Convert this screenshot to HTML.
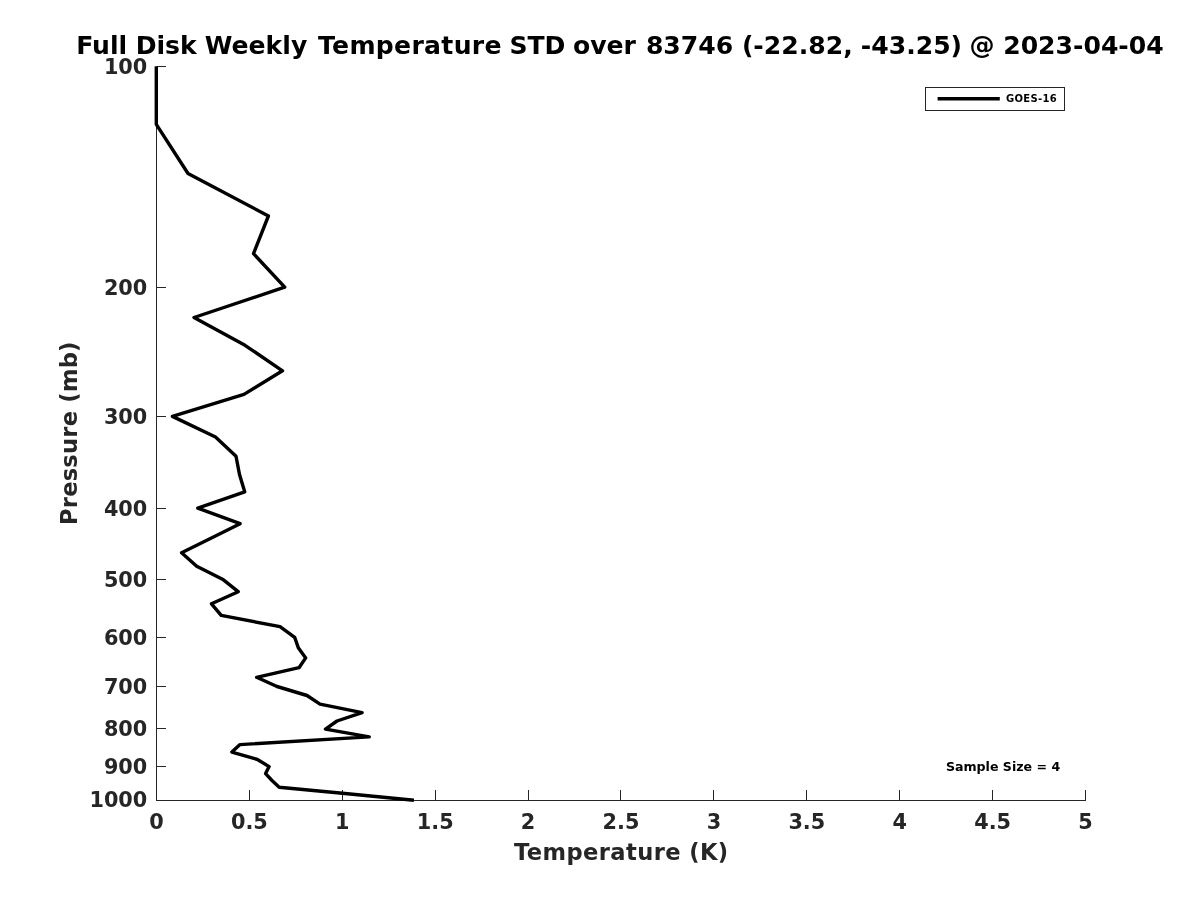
<!DOCTYPE html>
<html lang="en"><head><meta charset="utf-8"><title>Full Disk Weekly Temperature STD</title>
<style>html,body{margin:0;padding:0;background:#fff;width:1200px;height:900px;overflow:hidden}svg{display:block}</style></head>
<body>
<svg width="1200" height="900" viewBox="0 0 1200 900">
<rect width="1200" height="900" fill="#fff"/>
<g stroke="#262626" stroke-width="1" fill="none" shape-rendering="crispEdges">
<line x1="156.5" y1="66.5" x2="156.5" y2="800.5"/>
<line x1="156.5" y1="800.5" x2="1085.5" y2="800.5"/>
<line x1="156.5" y1="800.5" x2="156.5" y2="790.0"/>
<line x1="249.5" y1="800.5" x2="249.5" y2="790.0"/>
<line x1="342.5" y1="800.5" x2="342.5" y2="790.0"/>
<line x1="435.5" y1="800.5" x2="435.5" y2="790.0"/>
<line x1="528.5" y1="800.5" x2="528.5" y2="790.0"/>
<line x1="620.5" y1="800.5" x2="620.5" y2="790.0"/>
<line x1="713.5" y1="800.5" x2="713.5" y2="790.0"/>
<line x1="806.5" y1="800.5" x2="806.5" y2="790.0"/>
<line x1="899.5" y1="800.5" x2="899.5" y2="790.0"/>
<line x1="992.5" y1="800.5" x2="992.5" y2="790.0"/>
<line x1="1085.5" y1="800.5" x2="1085.5" y2="790.0"/>
<line x1="156.5" y1="66.5" x2="166.0" y2="66.5"/>
<line x1="156.5" y1="287.5" x2="166.0" y2="287.5"/>
<line x1="156.5" y1="416.5" x2="166.0" y2="416.5"/>
<line x1="156.5" y1="508.5" x2="166.0" y2="508.5"/>
<line x1="156.5" y1="579.5" x2="166.0" y2="579.5"/>
<line x1="156.5" y1="637.5" x2="166.0" y2="637.5"/>
<line x1="156.5" y1="686.5" x2="166.0" y2="686.5"/>
<line x1="156.5" y1="728.5" x2="166.0" y2="728.5"/>
<line x1="156.5" y1="766.5" x2="166.0" y2="766.5"/>
<line x1="156.5" y1="800.5" x2="166.0" y2="800.5"/>
</g>
<polyline points="156.3,66.2 156.3,124.3 188.0,173.5 268.4,216.0 253.5,253.6 284.7,287.2 194.0,317.5 245.0,345.3 282.5,370.8 244.0,394.4 172.4,416.4 215.5,437.0 236.0,456.3 239.5,474.5 244.7,491.8 197.8,508.1 240.1,523.7 210.4,538.5 181.6,552.7 196.7,566.2 222.5,579.2 238.2,591.7 211.5,603.8 221.2,615.4 280.0,626.6 294.7,637.4 298.3,647.8 305.7,657.9 299.0,667.7 256.6,677.3 277.0,686.5 307.0,695.5 320.0,704.2 362.1,712.7 337.0,721.0 325.5,729.1 369.2,736.9 240.0,744.6 231.9,752.1 257.4,759.5 269.1,766.6 265.6,773.6 272.0,780.5 279.2,787.2 347.6,793.8 413.9,800.2" fill="none" stroke="#000" stroke-width="3.4" stroke-linejoin="round" stroke-linecap="butt"/>
<g font-family="'DejaVu Sans','Liberation Sans',sans-serif" font-weight="bold">
<text y="53.6" font-size="25.1" fill="#000"><tspan x="76.2">Full </tspan><tspan x="135.7">Disk </tspan><tspan x="204.8">Weekly </tspan><tspan x="318" letter-spacing="0.3">Temperature </tspan><tspan x="509.4">STD </tspan><tspan x="573">over </tspan><tspan x="645.9">83746 </tspan><tspan x="741.9">(-22.82, </tspan><tspan x="860.8">-43.25) </tspan><tspan x="969.4">@ </tspan><tspan x="1003.2">2023-04-04</tspan></text>
<g font-size="20.8" fill="#262626">
<text x="156.5" y="829" text-anchor="middle">0</text>
<text x="249.4" y="829" text-anchor="middle">0.5</text>
<text x="342.3" y="829" text-anchor="middle">1</text>
<text x="435.2" y="829" text-anchor="middle">1.5</text>
<text x="528.1" y="829" text-anchor="middle">2</text>
<text x="621.0" y="829" text-anchor="middle">2.5</text>
<text x="713.9" y="829" text-anchor="middle">3</text>
<text x="806.8" y="829" text-anchor="middle">3.5</text>
<text x="899.7" y="829" text-anchor="middle">4</text>
<text x="992.6" y="829" text-anchor="middle">4.5</text>
<text x="1085.5" y="829" text-anchor="middle">5</text>
<text x="147.3" y="73.6" text-anchor="end">100</text>
<text x="147.3" y="294.6" text-anchor="end">200</text>
<text x="147.3" y="423.6" text-anchor="end">300</text>
<text x="147.3" y="515.6" text-anchor="end">400</text>
<text x="147.3" y="586.6" text-anchor="end">500</text>
<text x="147.3" y="644.6" text-anchor="end">600</text>
<text x="147.3" y="693.6" text-anchor="end">700</text>
<text x="147.3" y="735.6" text-anchor="end">800</text>
<text x="147.3" y="773.6" text-anchor="end">900</text>
<text x="147.3" y="806.9" text-anchor="end">1000</text>
</g>
<text x="513.9" y="859.6" font-size="22.6" textLength="214.3" fill="#262626">Temperature (K)</text>
<text transform="translate(77,525) rotate(-90)" font-size="22.6" textLength="183.4" fill="#262626">Pressure (mb)</text>
<text x="945.9" y="770.7" font-size="12.6" fill="#000">Sample Size = 4</text>
<rect x="925.5" y="87.5" width="139" height="23" fill="#fff" stroke="#262626" stroke-width="1" shape-rendering="crispEdges"/>
<line x1="937.6" y1="98.8" x2="999.8" y2="98.8" stroke="#000" stroke-width="3.4"/>
<text x="1006" y="102.4" font-size="10" textLength="50.6" fill="#000">GOES-16</text>
</g>
</svg>
</body></html>
